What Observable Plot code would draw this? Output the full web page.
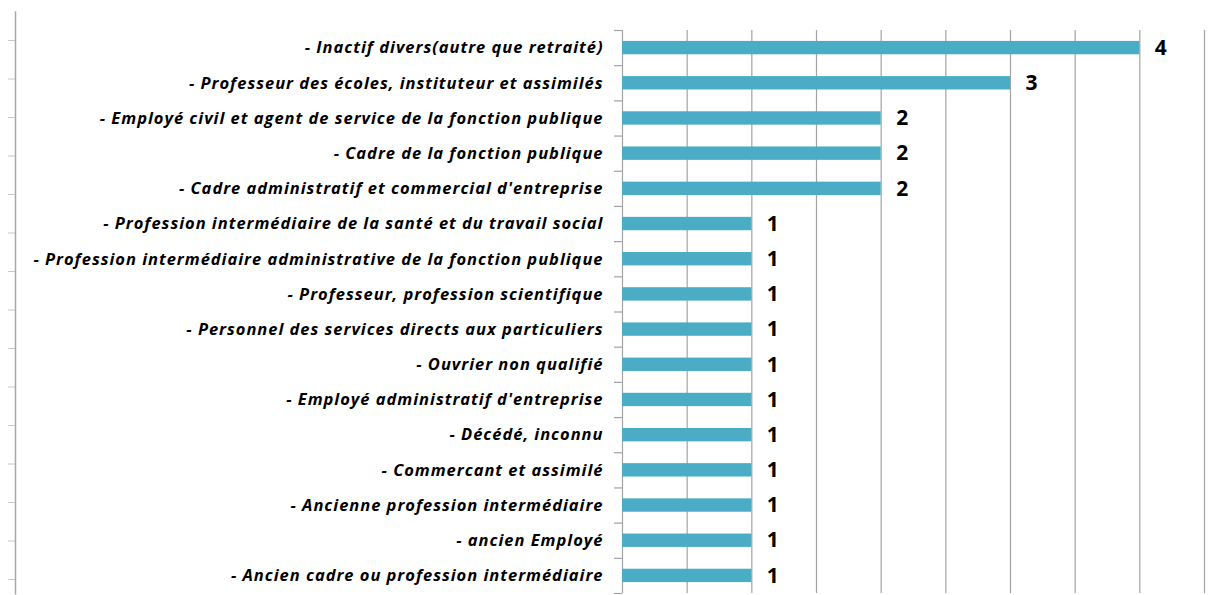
<!DOCTYPE html>
<html>
<head>
<meta charset="utf-8">
<script src="https://cdn.jsdelivr.net/npm/d3@7"></script>
<script src="https://cdn.jsdelivr.net/npm/@observablehq/plot@0.6"></script>
<style>
  html, body { margin: 0; padding: 0; background: #fff; }
  #wrap { position: relative; width: 1210px; height: 595px; }
  #wrap svg { position: absolute; top: 0; left: 0; }
</style>
</head>
<body>
<div id="wrap"></div>
<script>
const categories = [
  "- Inactif divers(autre que retraité)",
  "- Professeur des écoles, instituteur et assimilés",
  "- Employé civil et agent de service de la fonction publique",
  "- Cadre de la fonction publique",
  "- Cadre administratif et commercial d'entreprise",
  "- Profession intermédiaire de la santé et du travail social",
  "- Profession intermédiaire administrative de la fonction publique",
  "- Professeur, profession scientifique",
  "- Personnel des services directs aux particuliers",
  "- Ouvrier non qualifié",
  "- Employé administratif d'entreprise",
  "- Décédé, inconnu",
  "- Commercant et assimilé",
  "- Ancienne profession intermédiaire",
  "- ancien Employé",
  "- Ancien cadre ou profession intermédiaire"
];
const values = [4, 3, 2, 2, 2, 1, 1, 1, 1, 1, 1, 1, 1, 1, 1, 1];
const gridTicks = [0, 0.5, 1, 1.5, 2, 2.5, 3, 3.5, 4, 4.5];
const leftDecorTicks = [0, 1, 2, 3, 4, 5, 6, 7, 8, 9, 10, 11, 12, 13, 14];

const data = categories.map((c, i) => ({ cat: c, idx: i, value: values[i] }));
const bandEdges = d3.range(-0.5, categories.length, 1);
const half = 0.19;

const barColor = "#4BACC6";
const gridColor = "#a3a3a3";

// label font, with letter spacing tuned so the longest label spans like the reference
const labelFont = "'Open Sans'";
const labelSize = 16.5;
const ctx = document.createElement("canvas").getContext("2d");
ctx.font = `italic bold ${labelSize}px ${labelFont}`;
const longest = categories.reduce((a, b) => (ctx.measureText(b).width > ctx.measureText(a).width ? b : a));
const targetWidth = 570;
const letterSpacing = (targetWidth - ctx.measureText(longest).width) / longest.length;

const chart = Plot.plot({
  width: 1210,
  height: 595,
  marginLeft: 622,
  marginRight: 6,
  marginTop: 30,
  marginBottom: 2,
  style: { background: "transparent", overflow: "visible" },
  x: { domain: [0, 4.5], axis: null },
  y: { domain: [-0.5, categories.length - 0.5], reverse: true, axis: null },
  marks: [
    Plot.ruleX(gridTicks, { stroke: gridColor, strokeWidth: 1.2 }),
    Plot.rectX(data, {
      x1: 0, x2: "value",
      y1: d => d.idx - half, y2: d => d.idx + half,
      fill: barColor
    }),
    Plot.axisY({
      ticks: bandEdges, tickSize: 8, tickFormat: () => "", label: null,
      stroke: gridColor, strokeWidth: 1.2
    }),
    Plot.axisY({
      ticks: data.map(d => d.idx), tickSize: 0, tickPadding: 19, label: null,
      tickFormat: i => categories[i],
      fontSize: labelSize, fontStyle: "italic", fontWeight: "bold",
      fontFamily: labelFont, fill: "#000"
    }),
    Plot.text(data, {
      x: "value", y: "idx", text: d => String(d.value),
      dx: 15, textAnchor: "start",
      fontSize: 21, fontWeight: "bold", fontFamily: "'Open Sans'", fill: "#000"
    })
  ]
});

// apply letter spacing to category labels only
d3.select(chart).selectAll("g[aria-label='y-axis tick label'] text")
  .style("letter-spacing", `${letterSpacing}px`);

const decor = Plot.plot({
  width: 30,
  height: 595,
  marginLeft: 15,
  marginRight: 14,
  marginTop: 40,
  marginBottom: 16,
  style: { background: "transparent", overflow: "visible" },
  x: { domain: [0, 1], axis: null },
  y: { domain: [0, 14], axis: null },
  marks: [
    Plot.ruleX([0], { y1: -0.4, y2: 14.75, stroke: "#a8a8a8", strokeWidth: 1.5 }),
    Plot.axisY({ ticks: leftDecorTicks, tickSize: 7, tickFormat: () => "", label: null, stroke: "#c8c8c8" })
  ]
});

const wrap = document.getElementById("wrap");
wrap.appendChild(chart);
wrap.appendChild(decor);
</script>
</body>
</html>
